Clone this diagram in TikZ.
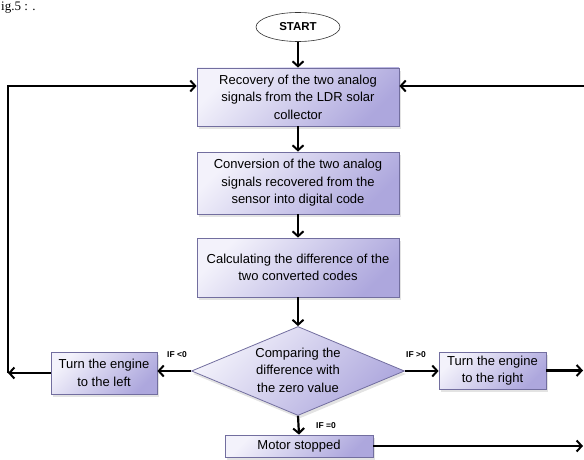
\documentclass[tikz,border=0pt]{standalone}
\usepackage{fontspec}
\setmainfont{Liberation Sans}
\newfontfamily\capserif{Liberation Serif}
\usetikzlibrary{arrows.meta,shapes.geometric,shadows}
\definecolor{boxlight}{HTML}{F3F2FB}
\definecolor{boxdark}{HTML}{ADA7DD}
\definecolor{bordc}{HTML}{726E9F}
\tikzset{
  procbox/.style={draw=bordc, line width=0.8pt, top color=boxlight, bottom color=boxdark, shading angle=45,
    drop shadow={shadow xshift=1.5pt, shadow yshift=-3pt, opacity=0.22},
    align=center, font=\fontsize{13}{17.5}\selectfont, inner sep=0pt},
  decision/.style={diamond, draw=bordc, line width=0.8pt, top color=boxlight, bottom color=boxdark, shading angle=45,
    drop shadow={shadow xshift=1.5pt, shadow yshift=-3pt, opacity=0.22},
    inner sep=0pt, minimum width=213pt, minimum height=89pt},
  dtext/.style={align=center, font=\fontsize{13}{17.5}\selectfont, inner sep=0pt},
  termin/.style={ellipse, draw=black!80, line width=0.6pt, fill=white, minimum width=84pt, minimum height=29pt,
    inner sep=0pt, font=\bfseries\fontsize{11.5}{13}\selectfont},
  arr/.style={draw=black, line width=2.2pt, -{Straight Barb[length=5pt,width=11pt,line width=2pt]}},
  cond/.style={font=\bfseries\fontsize{8.5}{10}\selectfont, inner sep=0pt}
}
\begin{document}
\begin{tikzpicture}[x=1pt,y=-1pt]
\useasboundingbox (0,0) rectangle (584,460);
\node[anchor=base west, font=\capserif\fontsize{13}{15}\selectfont, inner sep=0pt] (cap) at (1,11) {ig.5 : .};
\node[termin] (start) at (298,27) {START};
\node[procbox, minimum width=202pt, minimum height=58pt] (b1) at (298,97)
  {Recovery of the two analog\\signals from the LDR solar\\collector};
\node[procbox, minimum width=202pt, minimum height=62pt] (b2) at (298,183)
  {Conversion of the two analog\\signals recovered from the\\sensor into digital code};
\node[procbox, minimum width=202pt, minimum height=59pt] (b3) at (298,267.5)
  {Calculating the difference of the\\two converted codes};
\node[decision] (cmp) at (298,371) {};
\node[dtext] (cmpt) at (298,370) {Comparing the\\difference with\\the zero value};
\node[procbox, minimum width=106pt, minimum height=42pt] (left) at (104,373)
  {Turn the engine\\to the left};
\node[procbox, minimum width=107pt, minimum height=37pt] (right) at (492.5,370.5)
  {Turn the engine\\to the right};
\node[procbox, minimum width=148pt, minimum height=22pt] (motor) at (299,446)
  {Motor stopped};
\node[cond] (lt) at (177,355) {IF <0};
\node[cond] (gt) at (416,355) {IF >0};
\node[cond] (eq) at (326,426) {IF =0};
\coordinate (lc) at (8,373);
\coordinate (ltop) at (8,86);
\coordinate (rtop) at (590,86);
\coordinate (rend) at (583,370.5);
\begin{scope}
\clip (0,0) rectangle (584,460);
\draw[arr] (start) -- (b1);
\draw[arr] (b1) -- (b2);
\draw[arr] (b2) -- (b3);
\draw[arr] (b3) -- (cmp.north);
\draw[arr] (cmp.west) -- (left.east |- cmp.west);
\draw[arr] (left.west) -- (lc);
\draw[arr, line join=miter] (lc) -- (ltop) -- (ltop -| b1.west);
\draw[arr] (rtop) -- (rtop -| b1.east);
\draw[arr] (cmp.east) -- (right.west |- cmp.east);
\draw[arr] (right.east) -- (rend);
\draw[arr] (cmp.south) -- (motor.north);
\draw[arr] (motor.east) -- (motor.east -| rend);
\end{scope}
\end{tikzpicture}
\end{document}
